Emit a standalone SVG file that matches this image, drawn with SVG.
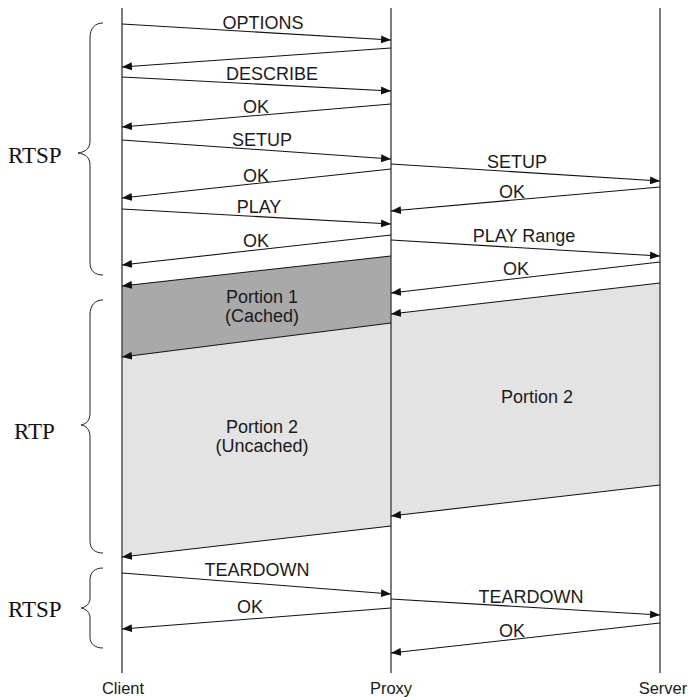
<svg xmlns="http://www.w3.org/2000/svg" width="690" height="697" viewBox="0 0 690 697">
<style>
.lbl{font-family:"Liberation Sans",Arial,sans-serif;font-size:18px;fill:#1a1a1a;text-anchor:middle}
.life{font-family:"Liberation Sans",Arial,sans-serif;font-size:16.5px;fill:#1a1a1a;text-anchor:middle}
.grp{font-family:"Liberation Serif","Times New Roman",serif;font-size:23px;fill:#111}
.msg{stroke:#111;stroke-width:1.1;fill:none;marker-end:url(#ah)}
.ll{stroke:#444;stroke-width:1.4}
.brace{stroke:#222;stroke-width:1;fill:none}
.dark{fill:#a9a9a9}
.light{fill:#e3e3e3}
</style>
<defs>
<marker id="ah" viewBox="0 0 10 8" refX="10" refY="4" markerWidth="10" markerHeight="8" markerUnits="userSpaceOnUse" orient="auto">
<path d="M0,0 L10,4 L0,8 z" fill="#111"/>
</marker>
</defs>
<g id="regions">
<polygon id="portion1-cached" class="dark" points="391,256 122,286 122,357 391,323"/>
<polygon id="portion2-uncached" class="light" points="391,323 122,357 122,557 391,526"/>
<polygon id="portion2-server" class="light" points="660,283 391,314 391,516 660,485"/>
</g>
<g id="client">
<line class="ll" x1="122" y1="8" x2="122" y2="673"/>
<text class="life" x="123" y="694">Client</text>
</g>
<g id="proxy">
<line class="ll" x1="391" y1="8" x2="391" y2="673"/>
<text class="life" x="391" y="694">Proxy</text>
</g>
<g id="server">
<line class="ll" x1="660" y1="8" x2="660" y2="673"/>
<text class="life" x="663" y="694">Server</text>
</g>
<g id="brace-rtsp1">
<path class="brace" d="M103,23 C95,23 90,28 90,38 L90,141 C90,149 85,152 78,153 C85,154 90,157 90,165 L90,263 C90,271 95,275 103,275"/>
<text class="grp" x="8" y="163">RTSP</text>
</g>
<g id="brace-rtp">
<path class="brace" d="M103,300 C95,300 90,305 90,315 L90,413 C90,421 86,424 81,425 C86,426 90,429 90,437 L90,541 C90,549 95,553 103,553"/>
<text class="grp" x="14" y="439">RTP</text>
</g>
<g id="brace-rtsp2">
<path class="brace" d="M103,568 C95,568 90,572 90,580 L90,598 C90,604 86,607 81,608 C86,609 90,612 90,618 L90,637 C90,644 95,648 103,648"/>
<text class="grp" x="8" y="617">RTSP</text>
</g>
<g id="connectors">
<line class="msg" x1="122" y1="24" x2="391" y2="40"/>
<line class="msg" x1="391" y1="48" x2="122" y2="67"/>
<line class="msg" x1="122" y1="77" x2="391" y2="91"/>
<line class="msg" x1="391" y1="104" x2="122" y2="127"/>
<line class="msg" x1="122" y1="140" x2="391" y2="159"/>
<line class="msg" x1="391" y1="169" x2="122" y2="198"/>
<line class="msg" x1="122" y1="209" x2="391" y2="224"/>
<line class="msg" x1="391" y1="235" x2="122" y2="265"/>
<line class="msg" x1="391" y1="164" x2="660" y2="181"/>
<line class="msg" x1="660" y1="187" x2="391" y2="211"/>
<line class="msg" x1="391" y1="240" x2="660" y2="256"/>
<line class="msg" x1="660" y1="262" x2="391" y2="293"/>
<line class="msg" x1="391" y1="256" x2="122" y2="286"/>
<line class="msg" x1="391" y1="323" x2="122" y2="357"/>
<line class="msg" x1="660" y1="283" x2="391" y2="314"/>
<line class="msg" x1="660" y1="485" x2="391" y2="516"/>
<line class="msg" x1="391" y1="526" x2="122" y2="557"/>
<line class="msg" x1="122" y1="573" x2="391" y2="594"/>
<line class="msg" x1="391" y1="608" x2="122" y2="629"/>
<line class="msg" x1="391" y1="599" x2="660" y2="615"/>
<line class="msg" x1="660" y1="623" x2="391" y2="653"/>
<text class="lbl" x="263" y="29">OPTIONS</text>
<text class="lbl" x="272" y="80">DESCRIBE</text>
<text class="lbl" x="256" y="113">OK</text>
<text class="lbl" x="262" y="146">SETUP</text>
<text class="lbl" x="256" y="182">OK</text>
<text class="lbl" x="259" y="213">PLAY</text>
<text class="lbl" x="256" y="247">OK</text>
<text class="lbl" x="517" y="168">SETUP</text>
<text class="lbl" x="512" y="198">OK</text>
<text class="lbl" x="524" y="242">PLAY Range</text>
<text class="lbl" x="516" y="275">OK</text>
<text class="lbl" x="262" y="302.5">Portion 1</text>
<text class="lbl" x="262" y="322">(Cached)</text>
<text class="lbl" x="537" y="402.5">Portion 2</text>
<text class="lbl" x="262" y="433">Portion 2</text>
<text class="lbl" x="262" y="452">(Uncached)</text>
<text class="lbl" x="257" y="576">TEARDOWN</text>
<text class="lbl" x="250" y="613">OK</text>
<text class="lbl" x="531" y="603">TEARDOWN</text>
<text class="lbl" x="512" y="637">OK</text>
</g>
</svg>
